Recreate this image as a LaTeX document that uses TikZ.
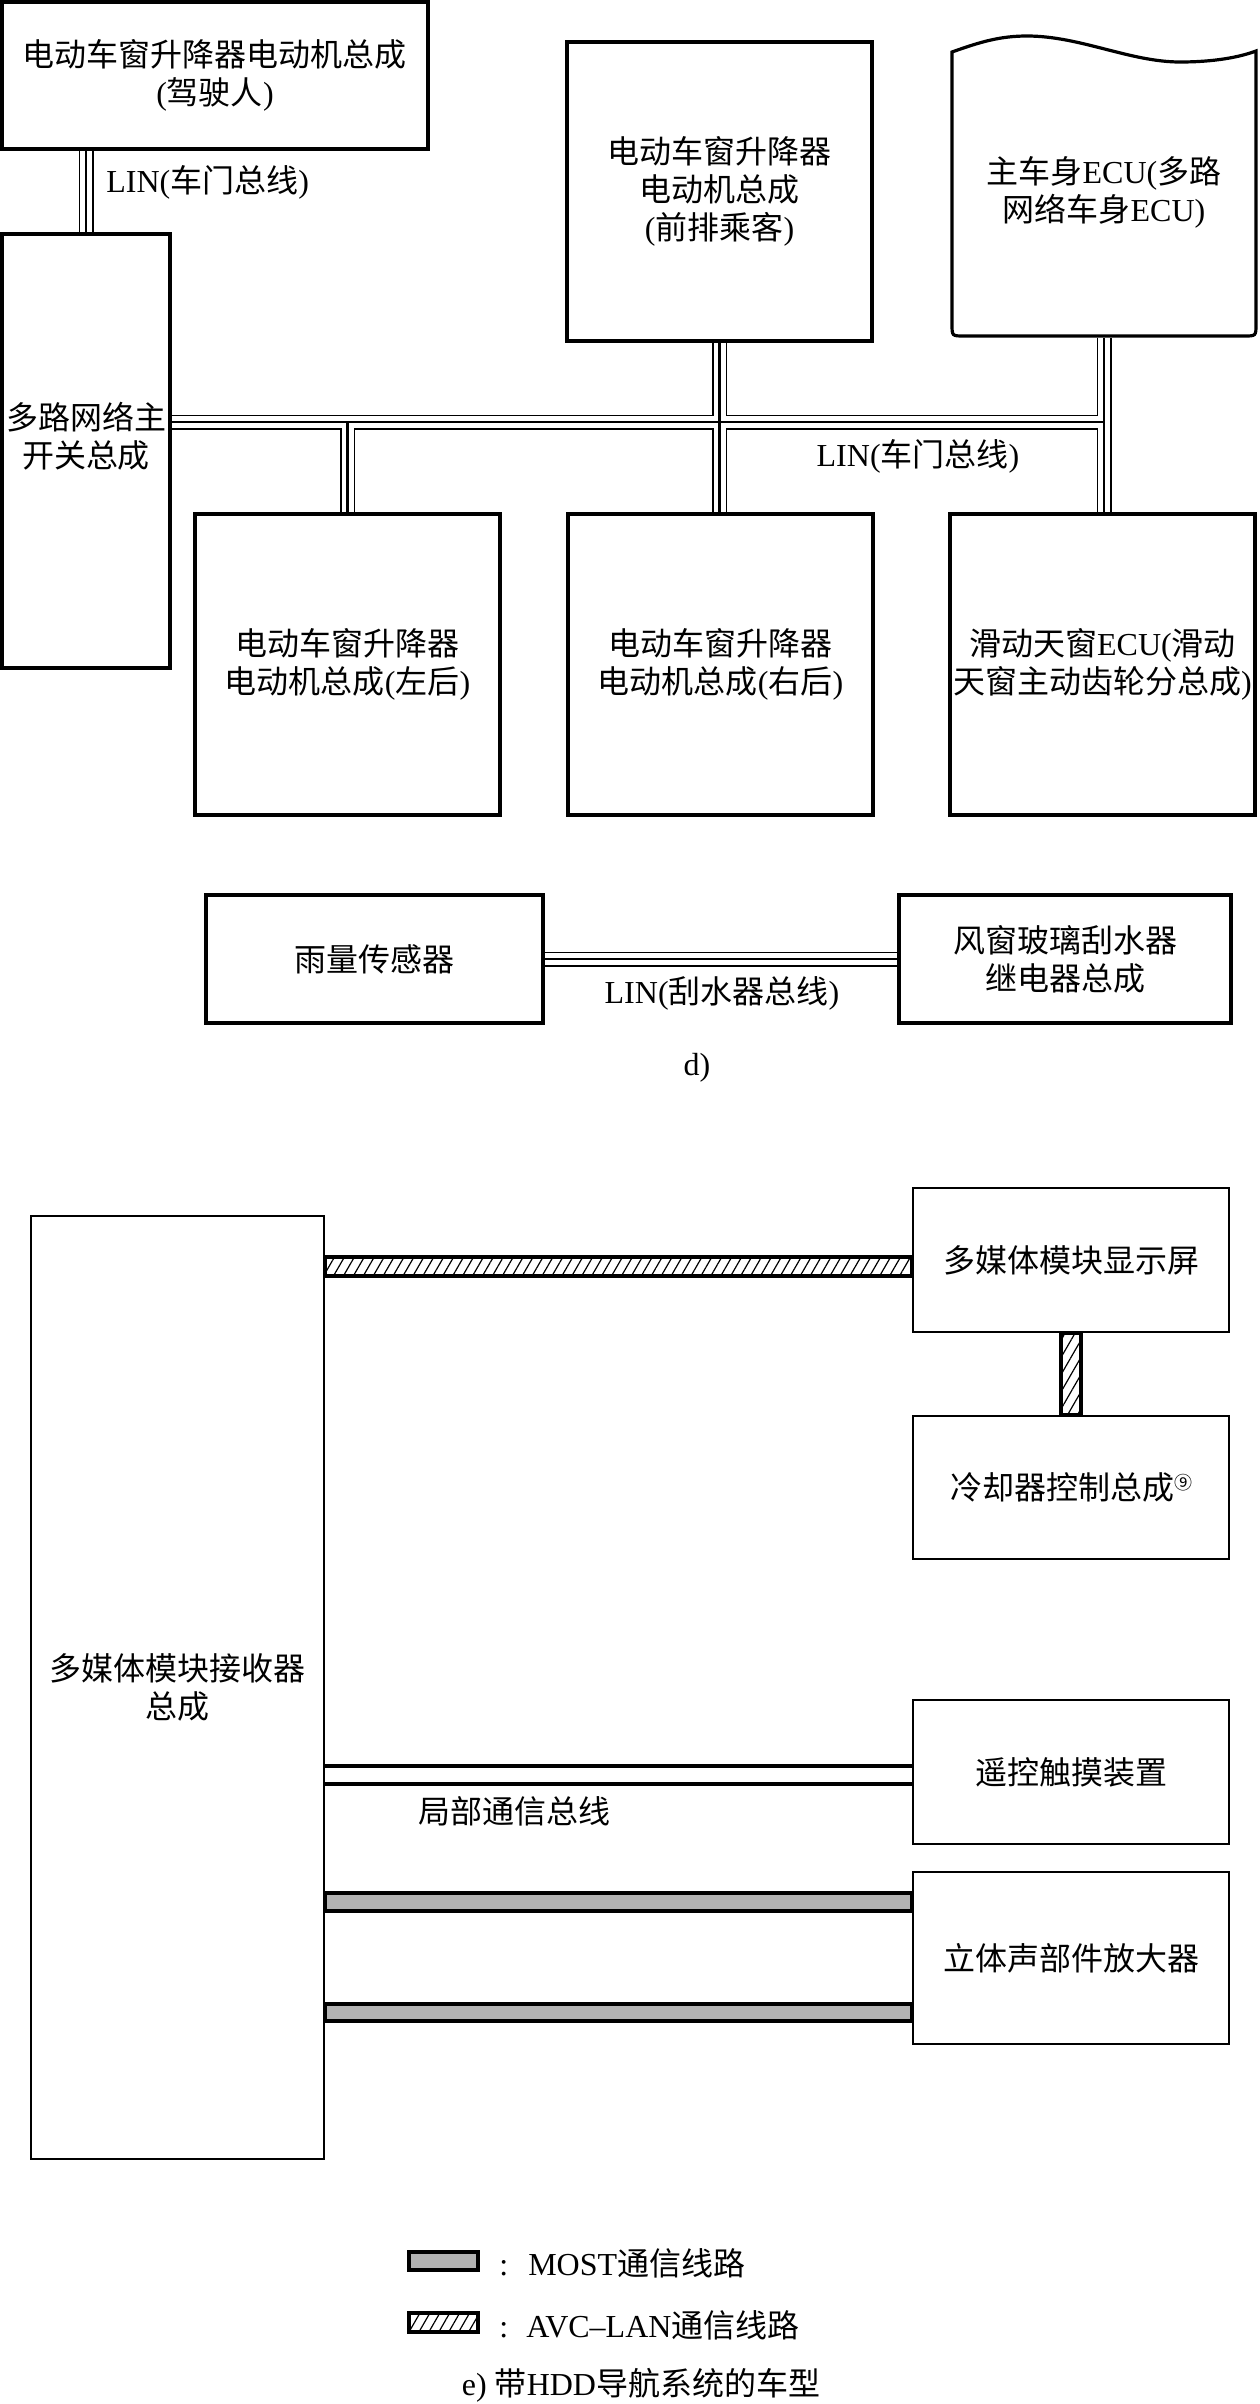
\documentclass[tikz,border=0pt]{standalone}
\usepackage{fontspec}
\setmainfont{Liberation Serif}
\newfontfamily\cjk{Noto Sans CJK SC}
\usetikzlibrary{patterns.meta}
\pgfdeclarelayer{bg}
\pgfsetlayers{bg,main}
\newcommand\zht[1]{{\cjk #1}}
\newcommand\doorbus[1]{%
  \draw[#1] (sw.north) -- (sw.north |- drv.south);
  \draw[#1] (sw.east |- busy) -- (ecu.south |- busy);
  \draw[#1] (lr.north) -- (lr.north |- busy);
  \draw[#1] (fp.south) -- (fp.south |- mr.north);
  \draw[#1] (ecu.south) -- (ecu.south |- rr.north);
  \draw[#1] (rain.east) -- (wiper.west);
}
\tikzset{
  txt/.style={font=\fontsize{16}{19}\selectfont, align=center, inner sep=0pt},
  boxa/.style={draw, line width=1.6pt, fill=white, txt},
  boxb/.style={draw, line width=1.3pt, fill=white, txt},
  busouter/.style={line width=7.5pt},
  businner/.style={line width=6pt, white},
  buscore/.style={line width=1.3pt},
  avcbar/.style={draw, line width=2pt, pattern={Lines[angle=60,distance=4.3pt,line width=0.6pt]}},
  mostbar/.style={draw, line width=1.8pt, fill=gray!60},
  localbus/.style={line width=1.8pt},
}
\begin{document}
\begin{tikzpicture}[x=0.5pt,y=-0.5pt]
\useasboundingbox (0,0) rectangle (1259,2404);

% ---------- d) ----------
\node[boxa, minimum width=213pt, minimum height=73.5pt] (drv) at (215,75.5)
  {\zht{电动车窗升降器电动机总成}\\(\zht{驾驶人})};
\node[boxa, minimum width=84pt, minimum height=217pt] (sw) at (86,451) {};
\node[txt] (swt) at (86,436) {\zht{多路网络主}\\\zht{开关总成}};
\node[boxa, minimum width=152.5pt, minimum height=149.5pt] (fp) at (719.5,191.5)
  {\zht{电动车窗升降器}\\\zht{电动机总成}\\(\zht{前排乘客})};
\node[txt, minimum width=152pt, minimum height=146pt] (ecu) at (1104,192)
  {\zht{主车身}ECU(\zht{多路}\\\zht{网络车身}ECU)};
\begin{pgfonlayer}{bg}
\draw[line width=1.6pt, fill=white] (952,52) .. controls (980,42) and (1000,36) .. (1027,36)
  .. controls (1080,36) and (1130,62) .. (1180,62)
  .. controls (1215,62) and (1240,57) .. (1256,51)
  -- (1256,324) .. controls (1256,336) .. (1244,336)
  -- (964,336) .. controls (952,336) .. (952,324) -- cycle;
\end{pgfonlayer}
\node[boxa, minimum width=152.5pt, minimum height=150.5pt] (lr) at (347.5,664.5)
  {\zht{电动车窗升降器}\\\zht{电动机总成}(\zht{左后})};
\node[boxa, minimum width=152.5pt, minimum height=150.5pt] (mr) at (720.5,664.5)
  {\zht{电动车窗升降器}\\\zht{电动机总成}(\zht{右后})};
\node[boxa, minimum width=152.5pt, minimum height=150.5pt] (rr) at (1102.5,664.5)
  {\zht{滑动天窗}ECU(\zht{滑动}\\\zht{天窗主动齿轮分总成})};
\node[boxa, minimum width=168.5pt, minimum height=64pt] (rain) at (374.5,959)
  {\zht{雨量传感器}};
\node[boxa, minimum width=166pt, minimum height=64pt] (wiper) at (1065,959)
  {\zht{风窗玻璃刮水器}\\\zht{继电器总成}};
\coordinate (busy) at (0,422);

\begin{pgfonlayer}{bg}
\doorbus{busouter}
\doorbus{businner}
\doorbus{buscore}
\end{pgfonlayer}

\node[txt, anchor=west] (l1) at (106,182) {LIN(\zht{车门总线})};
\node[txt] (l2) at (918,456) {LIN(\zht{车门总线})};
\node[txt] (l3) at (722,993) {LIN(\zht{刮水器总线})};
\node[txt] (capd) at (697,1068) {d)};

% ---------- e) ----------
\node[boxb, minimum width=146.5pt, minimum height=471.5pt] (rcv) at (177.5,1687.5)
  {\zht{多媒体模块接收器}\\\zht{总成}};
\node[boxb, minimum width=158pt, minimum height=72pt] (disp) at (1071,1260)
  {\zht{多媒体模块显示屏}};
\node[boxb, minimum width=158pt, minimum height=71.5pt] (cool) at (1071,1487.5)
  {\zht{冷却器控制总成}\raisebox{5pt}{\fontsize{9}{9}\selectfont\cjk ⑨}};
\node[boxb, minimum width=158pt, minimum height=72pt] (remote) at (1071,1772)
  {\zht{遥控触摸装置}};
\node[boxb, minimum width=158pt, minimum height=86pt] (stereo) at (1071,1958)
  {\zht{立体声部件放大器}};

\draw[avcbar] (rcv.east |- 0,1257) rectangle (disp.west |- 0,1276);
\draw[avcbar] ([xshift=-5pt]disp.south) rectangle ([xshift=5pt]cool.north);
\draw[localbus] (rcv.east |- 0,1766) -- (remote.west |- 0,1766);
\draw[localbus] (rcv.east |- 0,1784) -- (remote.west |- 0,1784);
\draw[mostbar] (rcv.east |- 0,1893) rectangle (stereo.west |- 0,1911);
\draw[mostbar] (rcv.east |- 0,2004) rectangle (stereo.west |- 0,2021);
\node[txt] (l4) at (514,1811) {\zht{局部通信总线}};

% legend
\node[mostbar, minimum width=34.5pt, minimum height=9pt, inner sep=0pt] (lgm) at (443.5,2261) {};
\node[avcbar, minimum width=34.5pt, minimum height=9.5pt, inner sep=0pt] (lga) at (443.5,2322.5) {};
\node[txt, anchor=west] (lgmt) at (499,2263) {:\hspace{10pt}MOST\zht{通信线路}};
\node[txt, anchor=west] (lgat) at (499,2325) {:\hspace{9pt}AVC–LAN\zht{通信线路}};
\node[txt] (cape) at (641,2385) {e) \zht{带}HDD\zht{导航系统的车型}};
\end{tikzpicture}
\end{document}
